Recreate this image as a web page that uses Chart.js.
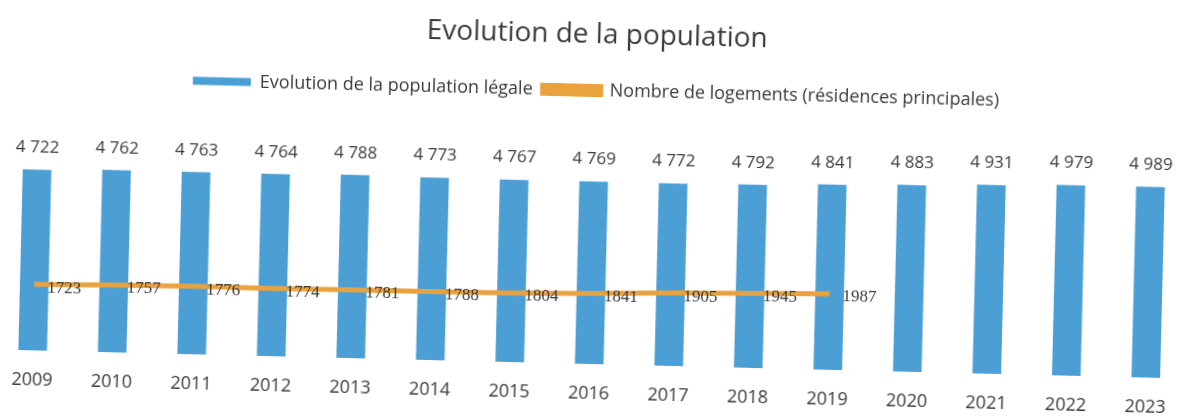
<!DOCTYPE html>
<html>
<head>
<meta charset="utf-8">
<script src="https://cdn.jsdelivr.net/npm/chart.js@4"></script>
<style>
  html, body { margin: 0; padding: 0; background: #fff; overflow: hidden; }
  .wrap { width: 1198px; height: 419px; margin-left: -6px; transform: rotate(1.4deg); }
</style>
</head>
<body>
<div class="wrap"><canvas id="chart"></canvas></div>
<script>
// donnees
var annees = ['2009', '2010', '2011', '2012', '2013', '2014', '2015', '2016',
              '2017', '2018', '2019', '2020', '2021', '2022', '2023'];
var population = [4722, 4762, 4763, 4764, 4788, 4773, 4767, 4769,
                  4772, 4792, 4841, 4883, 4931, 4979, 4989];
var logements = [1723, 1757, 1776, 1774, 1781, 1788, 1804, 1841,
                 1905, 1945, 1987, null, null, null, null];

var bleu = '#4c9fd4';
var orange = '#e9a23e';
var texte = '#3a3a3a';
var police = '"Open Sans", sans-serif';

function milliers(v) {
    return String(v).replace(/\B(?=(\d{3})+(?!\d))/g, ' ');
}

// etiquettes de valeurs (pas de plugin datalabels dispo)
var etiquettes = {
    id: 'etiquettes',
    afterDatasetsDraw: function (chart) {
        var ctx = chart.ctx;
        ctx.save();
        ctx.fillStyle = texte;

        ctx.font = '17px ' + police;
        ctx.textAlign = 'center';
        ctx.textBaseline = 'middle';
        chart.getDatasetMeta(0).data.forEach(function (bar, i) {
            ctx.fillText(milliers(population[i]), bar.x, bar.y - 22);
        });

        ctx.font = '17px "Liberation Serif", serif';
        ctx.textAlign = 'left';
        chart.getDatasetMeta(1).data.forEach(function (pt, i) {
            if (logements[i] === null) return;
            ctx.fillText(String(logements[i]), pt.x + 13, pt.y + 3);
        });
        ctx.restore();
    }
};

var chart = new Chart(document.getElementById('chart'), {
    type: 'bar',
    data: {
        labels: annees,
        datasets: [{
            type: 'bar',
            label: 'Evolution de la population légale',
            data: population,
            backgroundColor: bleu,
            borderWidth: 0,
            barPercentage: 0.36,
            categoryPercentage: 1,
            order: 1
        }, {
            type: 'line',
            label: 'Nombre de logements (résidences principales)',
            data: logements,
            borderColor: orange,
            backgroundColor: orange,
            borderWidth: 5,
            pointRadius: 0,
            tension: 0,
            spanGaps: false,
            order: 0
        }]
    },
    options: {
        responsive: true,
        maintainAspectRatio: false,
        animation: false,
        layout: { padding: { top: 12, bottom: 0, left: 0, right: 0 } },
        plugins: {
            title: {
                display: true,
                text: 'Evolution de la population',
                color: texte,
                font: { family: police, size: 28, weight: 'normal' },
                padding: { top: 6, bottom: 20 }
            },
            legend: {
                display: true,
                labels: {
                    color: texte,
                    font: { family: police, size: 18 },
                    boxWidth: 58,
                    boxHeight: 8,
                    padding: 10,
                    sort: function (a, b) { return a.datasetIndex - b.datasetIndex; }
                }
            },
            tooltip: { enabled: false }
        },
        scales: {
            x: {
                grid: { display: false, drawTicks: false },
                border: { display: false },
                ticks: {
                    color: texte,
                    font: { family: police, size: 18 },
                    padding: 19
                },
                afterFit: function (axis) { axis.height = 55; }
            },
            y: {
                display: false,
                min: 0,
                max: 6650
            }
        }
    },
    plugins: [etiquettes]
});
</script>
</body>
</html>
